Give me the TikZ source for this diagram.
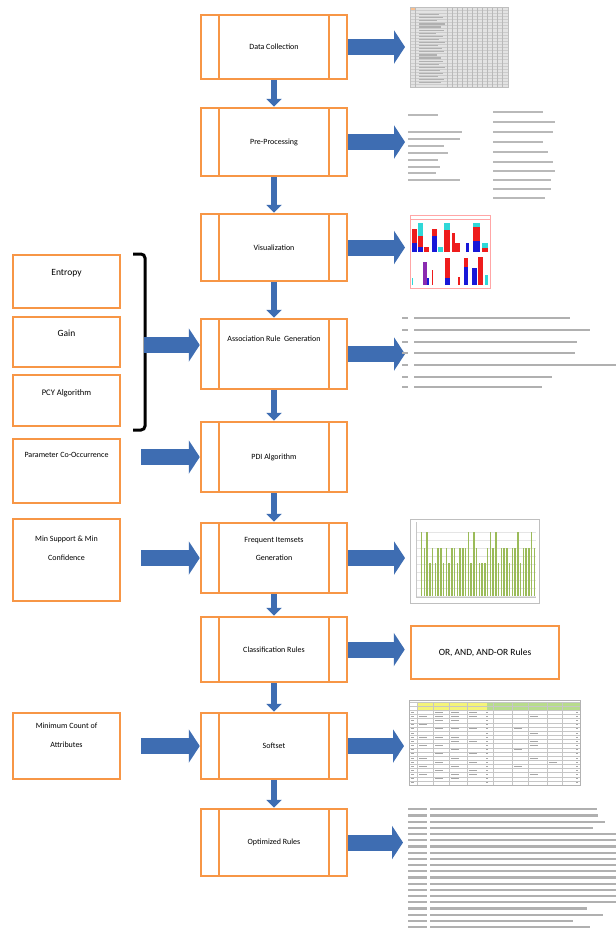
\documentclass[tikz,border=0pt]{standalone}
\usepackage{fontspec}
\setmainfont{Carlito}
\usepackage{tikz}
\usetikzlibrary{arrows.meta,positioning,calc}
\definecolor{boxorange}{HTML}{F79646}
\definecolor{flowblue}{HTML}{3E6DB2}
\definecolor{barred}{HTML}{EE1C1C}
\definecolor{barblue}{HTML}{1818D8}
\definecolor{barcyan}{HTML}{2FD8D8}
\definecolor{barviolet}{HTML}{8A2BB0}
\definecolor{bargreen}{HTML}{9BBB59}
\definecolor{cellyellow}{HTML}{F4F47A}
\definecolor{cellgreen}{HTML}{B8DC8C}

\begin{document}
\begin{tikzpicture}[
    x=1pt, y=-1pt,
    proc/.style={rectangle, draw=boxorange, line width=2.5pt, fill=white, minimum width=146pt, align=center,
        font=\fontsize{8}{10}\selectfont,
        path picture={\draw[boxorange, line width=2pt]
            ([xshift=18pt]path picture bounding box.north west) -- ([xshift=18pt]path picture bounding box.south west)
            ([xshift=-18pt]path picture bounding box.north east) -- ([xshift=-18pt]path picture bounding box.south east);}},
    inbox/.style={rectangle, draw=boxorange, line width=2.5pt, fill=white, minimum width=107pt, align=center},
    intext/.style={align=center, inner sep=0pt, font=\fontsize{8}{19}\selectfont},
    imgnode/.style={rectangle, inner sep=0pt, outer sep=0pt},
    bigarrow/.style={draw=flowblue, line width=16pt, -{Triangle[length=11pt,width=33pt]}},
    smallarrow/.style={draw=flowblue, line width=6pt, -{Triangle[length=8pt,width=15pt]}},
    txtline/.style={gray!55, line width=1.8pt},
    cellmark/.style={gray!70, line width=0.9pt}
]
    \useasboundingbox[fill=white] (0,0) rectangle (616,930);

    \node[proc, minimum height=64pt] (datacol) at (274,47) {Data Collection};
    \node[proc, minimum height=68pt] (preproc) at (274,142) {Pre-Processing};
    \node[proc, minimum height=67pt] (visual) at (274,247.5) {Visualization};
    \node[proc, minimum height=70pt, text depth=30pt] (assoc) at (274,354) {Association Rule\ \ Generation};
    \node[proc, minimum height=70pt] (pdi) at (274,457) {PDI Algorithm};
    \node[proc, minimum height=70pt, font=\fontsize{8}{18}\selectfont, text depth=18pt] (freq) at (274,558) {Frequent Itemsets\\Generation};
    \node[proc, minimum height=65pt] (classr) at (274,649.5) {Classification Rules};
    \node[proc, minimum height=66pt] (softset) at (274,746) {Softset};
    \node[proc, minimum height=67pt] (optrules) at (274,842.5) {Optimized Rules};

    \foreach \a/\b in {datacol/preproc, preproc/visual, visual/assoc, assoc/pdi, pdi/freq, freq/classr, classr/softset, softset/optrules}
        \draw[smallarrow] (\a) -- (\b);

    \node[inbox, minimum height=53pt] (entropy) at (66.5,281.5) {};
    \node[intext, font=\fontsize{9.5}{11}\selectfont] (entropytxt) at (66.5,273) {Entropy};
    \node[inbox, minimum height=50pt] (gain) at (66.5,342) {};
    \node[intext, font=\fontsize{9.5}{11}\selectfont] (gaintxt) at (66.5,333) {Gain};
    \node[inbox, minimum height=51pt] (pcy) at (66.5,400.5) {};
    \node[intext, font=\fontsize{8.5}{10}\selectfont] (pcytxt) at (66.5,393) {PCY Algorithm};
    \node[inbox, minimum height=64pt] (param) at (66.5,471) {};
    \node[intext] (paramtxt) at (66.5,455) {Parameter Co-Occurrence};
    \node[inbox, minimum height=82pt] (minsup) at (66.5,560) {};
    \node[intext] (minsuptxt) at (66.5,548) {Min Support \& Min\\Confidence};
    \node[inbox, minimum height=66pt] (mincount) at (66.5,746) {};
    \node[intext] (mincounttxt) at (66.5,735) {Minimum Count of\\Attributes};

    \draw[line width=3pt, rounded corners=4pt] (133,254) -- (145,254) -- (145,430) -- (133,430);
    \coordinate (brace) at (144,345);
    \draw[bigarrow] (brace) -- (brace -| assoc.west);
    \draw[bigarrow, shorten <=20pt] (param.east |- pdi.west) -- (pdi.west);
    \draw[bigarrow, shorten <=20pt] (minsup.east |- freq.west) -- (freq.west);
    \draw[bigarrow, shorten <=20pt] (mincount.east |- softset.west) -- (softset.west);

    \node[imgnode, minimum width=98pt, minimum height=80pt] (rawsheet) at (459,47) {};
    \node[imgnode, minimum width=152pt, minimum height=90pt] (cleandata) at (484,155) {};
    \node[imgnode, minimum width=80pt, minimum height=73pt] (vizchart) at (450,251.5) {};
    \node[imgnode, minimum width=208pt, minimum height=80pt] (rulelist) at (512,352) {};
    \node[imgnode, minimum width=129pt, minimum height=84pt] (itemchart) at (474.5,561) {};
    \node[inbox, minimum width=148pt, minimum height=53pt, font=\fontsize{9.5}{11}\selectfont] (logicrules) at (485,652.5) {OR, AND, AND-OR Rules};
    \node[imgnode, minimum width=171pt, minimum height=85pt] (softsheet) at (494.5,742.5) {};
    \node[imgnode, minimum width=208pt, minimum height=122pt] (optlist) at (512,868) {};

    \draw[bigarrow, shorten >=5pt] (datacol.east) -- (datacol.east -| rawsheet.west);
    \draw[bigarrow, shorten >=3pt] (preproc.east) -- (preproc.east -| cleandata.west);
    \draw[bigarrow, shorten >=5pt] (visual.east) -- (visual.east -| vizchart.west);
    \draw[bigarrow, shorten >=3pt] (assoc.east) -- (assoc.east -| rulelist.west);
    \draw[bigarrow, shorten >=5pt] (freq.east) -- (freq.east -| itemchart.west);
    \draw[bigarrow, shorten >=5pt] (classr.east) -- (classr.east -| logicrules.west);
    \draw[bigarrow, shorten >=5pt] (softset.east) -- (softset.east -| softsheet.west);
    \draw[bigarrow, shorten >=5pt] (optrules.east) -- (optrules.east -| optlist.west);

    % raw data sheet
    \fill[gray!22] (410,7) rectangle (508,87);
    \foreach \r in {0,...,24}
        \draw[gray!40, line width=0.3pt] (410,{10+3.1*\r}) -- (508,{10+3.1*\r});
    \foreach \c in {415,446.7,451.7,456.7,461.7,466.7,471.7,476.7,481.7,486.7,491.7,496.7,501.7}
        \draw[gray!55, line width=0.4pt] (\c,7) -- (\c,87);
    \foreach \r/\l in {1/20,2/24,3/18,4/26,5/22,6/25,7/17,8/24,9/20,10/26,11/19,12/23,13/25,14/18,15/22,16/24,17/20,18/26,19/21,20/24,21/19,22/25,23/22}
        \draw[gray!62, line width=1.2pt] (419,{11.5+3.1*\r}) -- ++(\l,0);
    \fill[boxorange!60] (410,7) rectangle (415,10);
    \draw[gray!50, line width=0.6pt] (410,7) rectangle (508,87);

    % cleaned data text
    \foreach \y/\l in {115/30,132/54,139/52,146/36,153/40,160/30,167/32,173/28,180/52}
        \draw[txtline] (408,\y) -- ++(\l,0);
    \foreach \y/\l in {112/50,122/62,132/60,142/50,152/55,162/60,171/62,180/58,189/58,198/52}
        \draw[txtline] (493,\y) -- ++(\l,0);

    % visualization chart
    \fill[barblue] (411.7,242.7) rectangle (416.7,252.3);
    \fill[barred] (411.7,229.3) rectangle (416.7,242.7);
    \fill[barblue] (418.3,246.7) rectangle (423.3,252.3);
    \fill[barred] (418.3,236) rectangle (423.3,246.7);
    \fill[barcyan] (418.3,223.3) rectangle (423.3,236);
    \fill[barred] (424.3,246.7) rectangle (429.3,252.3);
    \fill[barblue] (431.7,236) rectangle (436.7,252.3);
    \fill[barred] (431.7,229.3) rectangle (436.7,236);
    \fill[barcyan] (438.3,246.7) rectangle (443.3,252.3);
    \fill[barred] (444.3,230) rectangle (450,252.3);
    \fill[barcyan] (444.3,223.3) rectangle (450,230);
    \fill[barred] (451.7,233.3) rectangle (455,252.3);
    \fill[barred] (455,242.7) rectangle (460,252.3);
    \fill[barblue] (466,242.7) rectangle (469.3,252.3);
    \fill[barblue] (472.7,240.7) rectangle (480,252.3);
    \fill[barred] (472.7,226.7) rectangle (480,240.7);
    \fill[barcyan] (472.7,223.3) rectangle (480,226.7);
    \fill[barred] (481.7,248.3) rectangle (488.3,252.3);
    \fill[barcyan] (481.7,243.3) rectangle (488.3,248.3);
    \fill[barcyan] (411.7,278.3) rectangle (413.3,285);
    \fill[barviolet] (422.7,261.7) rectangle (426.7,285);
    \fill[barblue] (426.7,278.3) rectangle (429.3,285);
    \fill[barred] (431.7,270) rectangle (433.3,285);
    \fill[barblue] (445,278.3) rectangle (450,285);
    \fill[barred] (445,258.3) rectangle (450,278.3);
    \fill[barred] (458.3,276.7) rectangle (460,285);
    \fill[barblue] (464.3,266.7) rectangle (468.3,285);
    \fill[barred] (464.3,258.3) rectangle (468.3,266.7);
    \fill[barblue] (471.7,268.3) rectangle (476.7,285);
    \fill[barred] (478.3,256.7) rectangle (483.3,285);
    \fill[barcyan] (485,275) rectangle (488.3,285);
    \draw[red!35, line width=1pt] (410,215) rectangle (490,288);
    \draw[red!35, line width=0.6pt] (410,219) -- (490,219);

    % association rules text
    \foreach \y/\e in {318/570,330/590,342/577,353/575,365/616,377/552,387/542} {
        \draw[txtline, gray!62] (402,\y) -- ++(6,0);
        \draw[txtline, gray!62] (414,\y) -- (\e,\y);
    }

    % frequent itemsets chart
    \draw[gray!50, line width=0.8pt, fill=white] (410,519) rectangle (539,603);
    \foreach \g in {532,540,548,556,564,572,580,588,596}
        \draw[gray!20, line width=0.3pt] (416,\g) -- (536,\g);
    \foreach \h [count=\i] in {532,548,532,563,548,563,548,548,563,548,563,548,548,563,548,548,548,532,563,532,548,563,563,563,548,532,548,532,563,548,548,548,563,548,548,532,563,548,548,548,532,548}
        \fill[bargreen] ({418+2.75*\i},596) rectangle ++(1.7,{\h-596});
    \draw[gray!45, line width=0.3pt] (416,522) -- (416,597) -- (536,597);

    % softset sheet
    \fill[cellyellow] (417,702) rectangle (487,710.5);
    \fill[cellgreen] (487,702) rectangle (580,710.5);
    \foreach \r in {0,...,20}
        \draw[gray!45, line width=0.3pt] (409,{702+4.15*\r}) -- (580,{702+4.15*\r});
    \foreach \c in {417,433,449,467,493,512,528,547,562}
        \draw[gray!45, line width=0.3pt] (\c,702) -- (\c,785);
    \foreach \r in {2,...,19} {
        \draw[cellmark] (486,{704+4.15*\r}) -- ++(2,0);
        \draw[cellmark] (576,{704+4.15*\r}) -- ++(2,0);
        \draw[cellmark] (410.5,{704+4.15*\r}) -- ++(3,0);
    }
    \foreach \c/\r in {419/3,419/5,419/8,419/10,419/13,419/15,419/17,435/2,435/3,435/4,435/6,435/8,435/10,435/12,435/14,435/16,435/18,451/2,451/3,451/4,451/6,451/8,451/9,451/11,451/13,451/15,451/17,451/18,469/2,469/3,469/6,469/9,469/12,469/14,469/16,469/17,514/6,514/11,514/15,530/3,530/7,530/9,530/10,530/13,530/17,549/14}
        \draw[cellmark] (\c,{704+4.15*\r}) -- ++(8,0);
    \draw[gray!60, line width=0.8pt] (409,700) rectangle (580,785);

    % optimized rules text
    \foreach \e [count=\i] in {597,598,605,593,616,616,616,616,616,616,616,616,616,616,616,616,587,603,573,590} {
        \draw[txtline, gray!62, line width=2.2pt] (408,{803+6.2*\i}) -- ++(19,0);
        \draw[txtline, gray!62, line width=2.2pt] (430,{803+6.2*\i}) -- (\e,{803+6.2*\i});
    }
\end{tikzpicture}
\end{document}
